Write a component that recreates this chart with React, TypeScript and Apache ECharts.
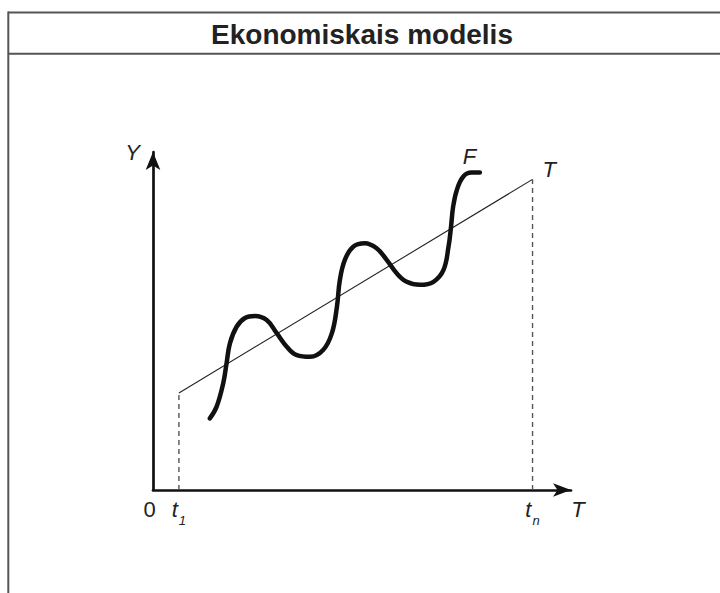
import React, { useEffect, useRef } from 'react';
import * as echarts from 'echarts';

const TITLE = 'Ekonomiskais modelis';
const FONT = '"Liberation Sans", Arial, Helvetica, sans-serif';

// axis markers (data units, axis spans 0..100)
const T1 = 6.2;
const TN = 90.8;
const X_TICK_VALUES = [0, T1, TN];
const X_TICK_LABELS = ['{z|0}', '{t|t}{s|1}', '{t|t}{s|n}'];
const X_NAME = 'T';
const Y_NAME = 'Y';

// trend line T between t1 and tn
const TREND_X = [T1, TN];
const TREND_Y = [28.7, 91.9];
const TREND_LABEL = 'T';

// wavy curve F
const CURVE_X = [13.6, 15.2, 16.8, 17.6, 18.4, 20.0, 22.0, 24.4, 27.2, 29.6, 32.0, 34.4, 37.6, 40.7, 42.8, 44.0, 44.7, 45.9, 47.9, 50.7, 53.5, 55.9, 58.3, 60.7, 63.9, 67.1, 69.5, 70.7, 71.3, 71.8, 72.7, 74.2, 76.2, 78.2];
const CURVE_Y = [21.2, 24.6, 31.6, 37.5, 43.4, 48.3, 50.9, 51.5, 50.3, 46.4, 42.4, 39.9, 39.4, 41.4, 46.4, 54.2, 62.1, 68.1, 72.0, 73.0, 71.5, 68.1, 64.1, 61.6, 60.7, 61.6, 65.1, 72.0, 77.9, 83.8, 88.8, 92.7, 93.9, 93.9];
const CURVE_LABEL = 'F';
const CURVE_LABEL_INDEX = 32;

export default function App() {
  const ref = useRef<HTMLDivElement>(null);

  useEffect(() => {
    if (!ref.current) return;
    const chart = echarts.init(ref.current, null, { renderer: 'svg' });

    const frameStyle = { stroke: '#555', lineWidth: 2 };
    const textColor = '#222';

    const curveData = CURVE_X.map((x, i) => {
      if (i === CURVE_LABEL_INDEX) {
        return {
          value: [x, CURVE_Y[i]],
          label: {
            show: true,
            formatter: CURVE_LABEL,
            position: 'top',
            distance: 5,
            offset: [-2, 0],
            fontFamily: FONT,
            fontSize: 22,
            fontStyle: 'italic',
            color: textColor,
          },
        };
      }
      return { value: [x, CURVE_Y[i]] };
    });

    const trendData = TREND_X.map((x, i) => {
      if (i === TREND_X.length - 1) {
        return {
          value: [x, TREND_Y[i]],
          label: {
            show: true,
            formatter: TREND_LABEL,
            position: 'right',
            distance: 5,
            offset: [5, -10],
            fontFamily: FONT,
            fontSize: 22,
            fontStyle: 'italic',
            color: textColor,
          },
        };
      }
      return { value: [x, TREND_Y[i]] };
    });

    const dashStyle = { color: '#555', width: 1.4, type: [5, 4] };

    const option: any = {
      animation: false,
      title: {
        text: TITLE,
        left: 362,
        top: 20,
        textAlign: 'center',
        padding: 0,
        textStyle: { fontFamily: FONT, fontSize: 28, fontWeight: 'bold', color: textColor },
      },
      graphic: [
        { type: 'line', silent: true, shape: { x1: 8, y1: 12.5, x2: 720, y2: 12.5 }, style: frameStyle },
        { type: 'line', silent: true, shape: { x1: 8, y1: 53.7, x2: 720, y2: 53.7 }, style: frameStyle },
        { type: 'line', silent: true, shape: { x1: 8.3, y1: 11.5, x2: 8.3, y2: 593 }, style: frameStyle },
      ],
      grid: { left: 153, right: 149, top: 152, bottom: 103, outerBoundsMode: 'none' },
      xAxis: {
        type: 'value',
        min: 0,
        max: 100,
        splitLine: { show: false },
        axisTick: { show: false },
        axisLine: {
          onZero: true,
          symbol: ['none', 'arrow'],
          symbolSize: [10, 18],
          lineStyle: { color: '#111', width: 2.7 },
        },
        axisLabel: {
          customValues: X_TICK_VALUES,
          margin: 8,
          fontFamily: FONT,
          fontSize: 22,
          color: textColor,
          formatter: (v: number) => {
            const i = X_TICK_VALUES.findIndex((t) => Math.abs(t - v) < 1e-6);
            return i >= 0 ? X_TICK_LABELS[i] : '';
          },
          rich: {
            z: { fontFamily: FONT, fontSize: 22, lineHeight: 26, verticalAlign: 'top', padding: [0, 7, 0, 0], color: textColor },
            t: { fontFamily: FONT, fontSize: 22, fontStyle: 'italic', lineHeight: 26, verticalAlign: 'top', color: textColor },
            s: { fontFamily: FONT, fontSize: 13, fontStyle: 'italic', lineHeight: 13, padding: [18, 0, 0, 1], color: textColor },
          },
        },
        name: X_NAME,
        nameLocation: 'end',
        nameGap: 7,
        nameTextStyle: {
          fontFamily: FONT,
          fontSize: 22,
          fontStyle: 'italic',
          color: textColor,
          align: 'center',
          verticalAlign: 'top',
          padding: [8, 0, 0, 0],
        },
      },
      yAxis: {
        type: 'value',
        min: 0,
        max: 100,
        splitLine: { show: false },
        axisTick: { show: false },
        axisLabel: { show: false },
        axisLine: {
          onZero: true,
          symbol: ['none', 'arrow'],
          symbolSize: [11, 18],
          lineStyle: { color: '#111', width: 2.7 },
        },
        name: Y_NAME,
        nameLocation: 'end',
        nameGap: 0,
        nameTextStyle: {
          fontFamily: FONT,
          fontSize: 22,
          fontStyle: 'italic',
          color: textColor,
          align: 'right',
          verticalAlign: 'middle',
          padding: [0, 13, 0, 0],
        },
      },
      series: [
        {
          type: 'line',
          name: 't1',
          data: [[T1, 0], [T1, TREND_Y[0]]],
          symbol: 'none',
          lineStyle: dashStyle,
          silent: true,
        },
        {
          type: 'line',
          name: 'tn',
          data: [[TN, 0], [TN, TREND_Y[1]]],
          symbol: 'none',
          lineStyle: dashStyle,
          silent: true,
        },
        {
          type: 'line',
          name: 'T',
          data: trendData,
          symbol: 'circle',
          symbolSize: 0,
          lineStyle: { color: '#222', width: 1.1 },
          silent: true,
        },
        {
          type: 'line',
          name: 'F',
          data: curveData,
          smooth: 0.4,
          symbol: 'circle',
          symbolSize: 0,
          lineStyle: { color: '#111', width: 4.5, cap: 'round', join: 'round' },
          silent: true,
        },
      ],
    };

    chart.setOption(option);
    return () => chart.dispose();
  }, []);

  return (
    <div
      ref={ref}
      style={{ position: 'fixed', left: 0, top: 0, width: 720, height: 593, background: '#fff' }}
    />
  );
}
